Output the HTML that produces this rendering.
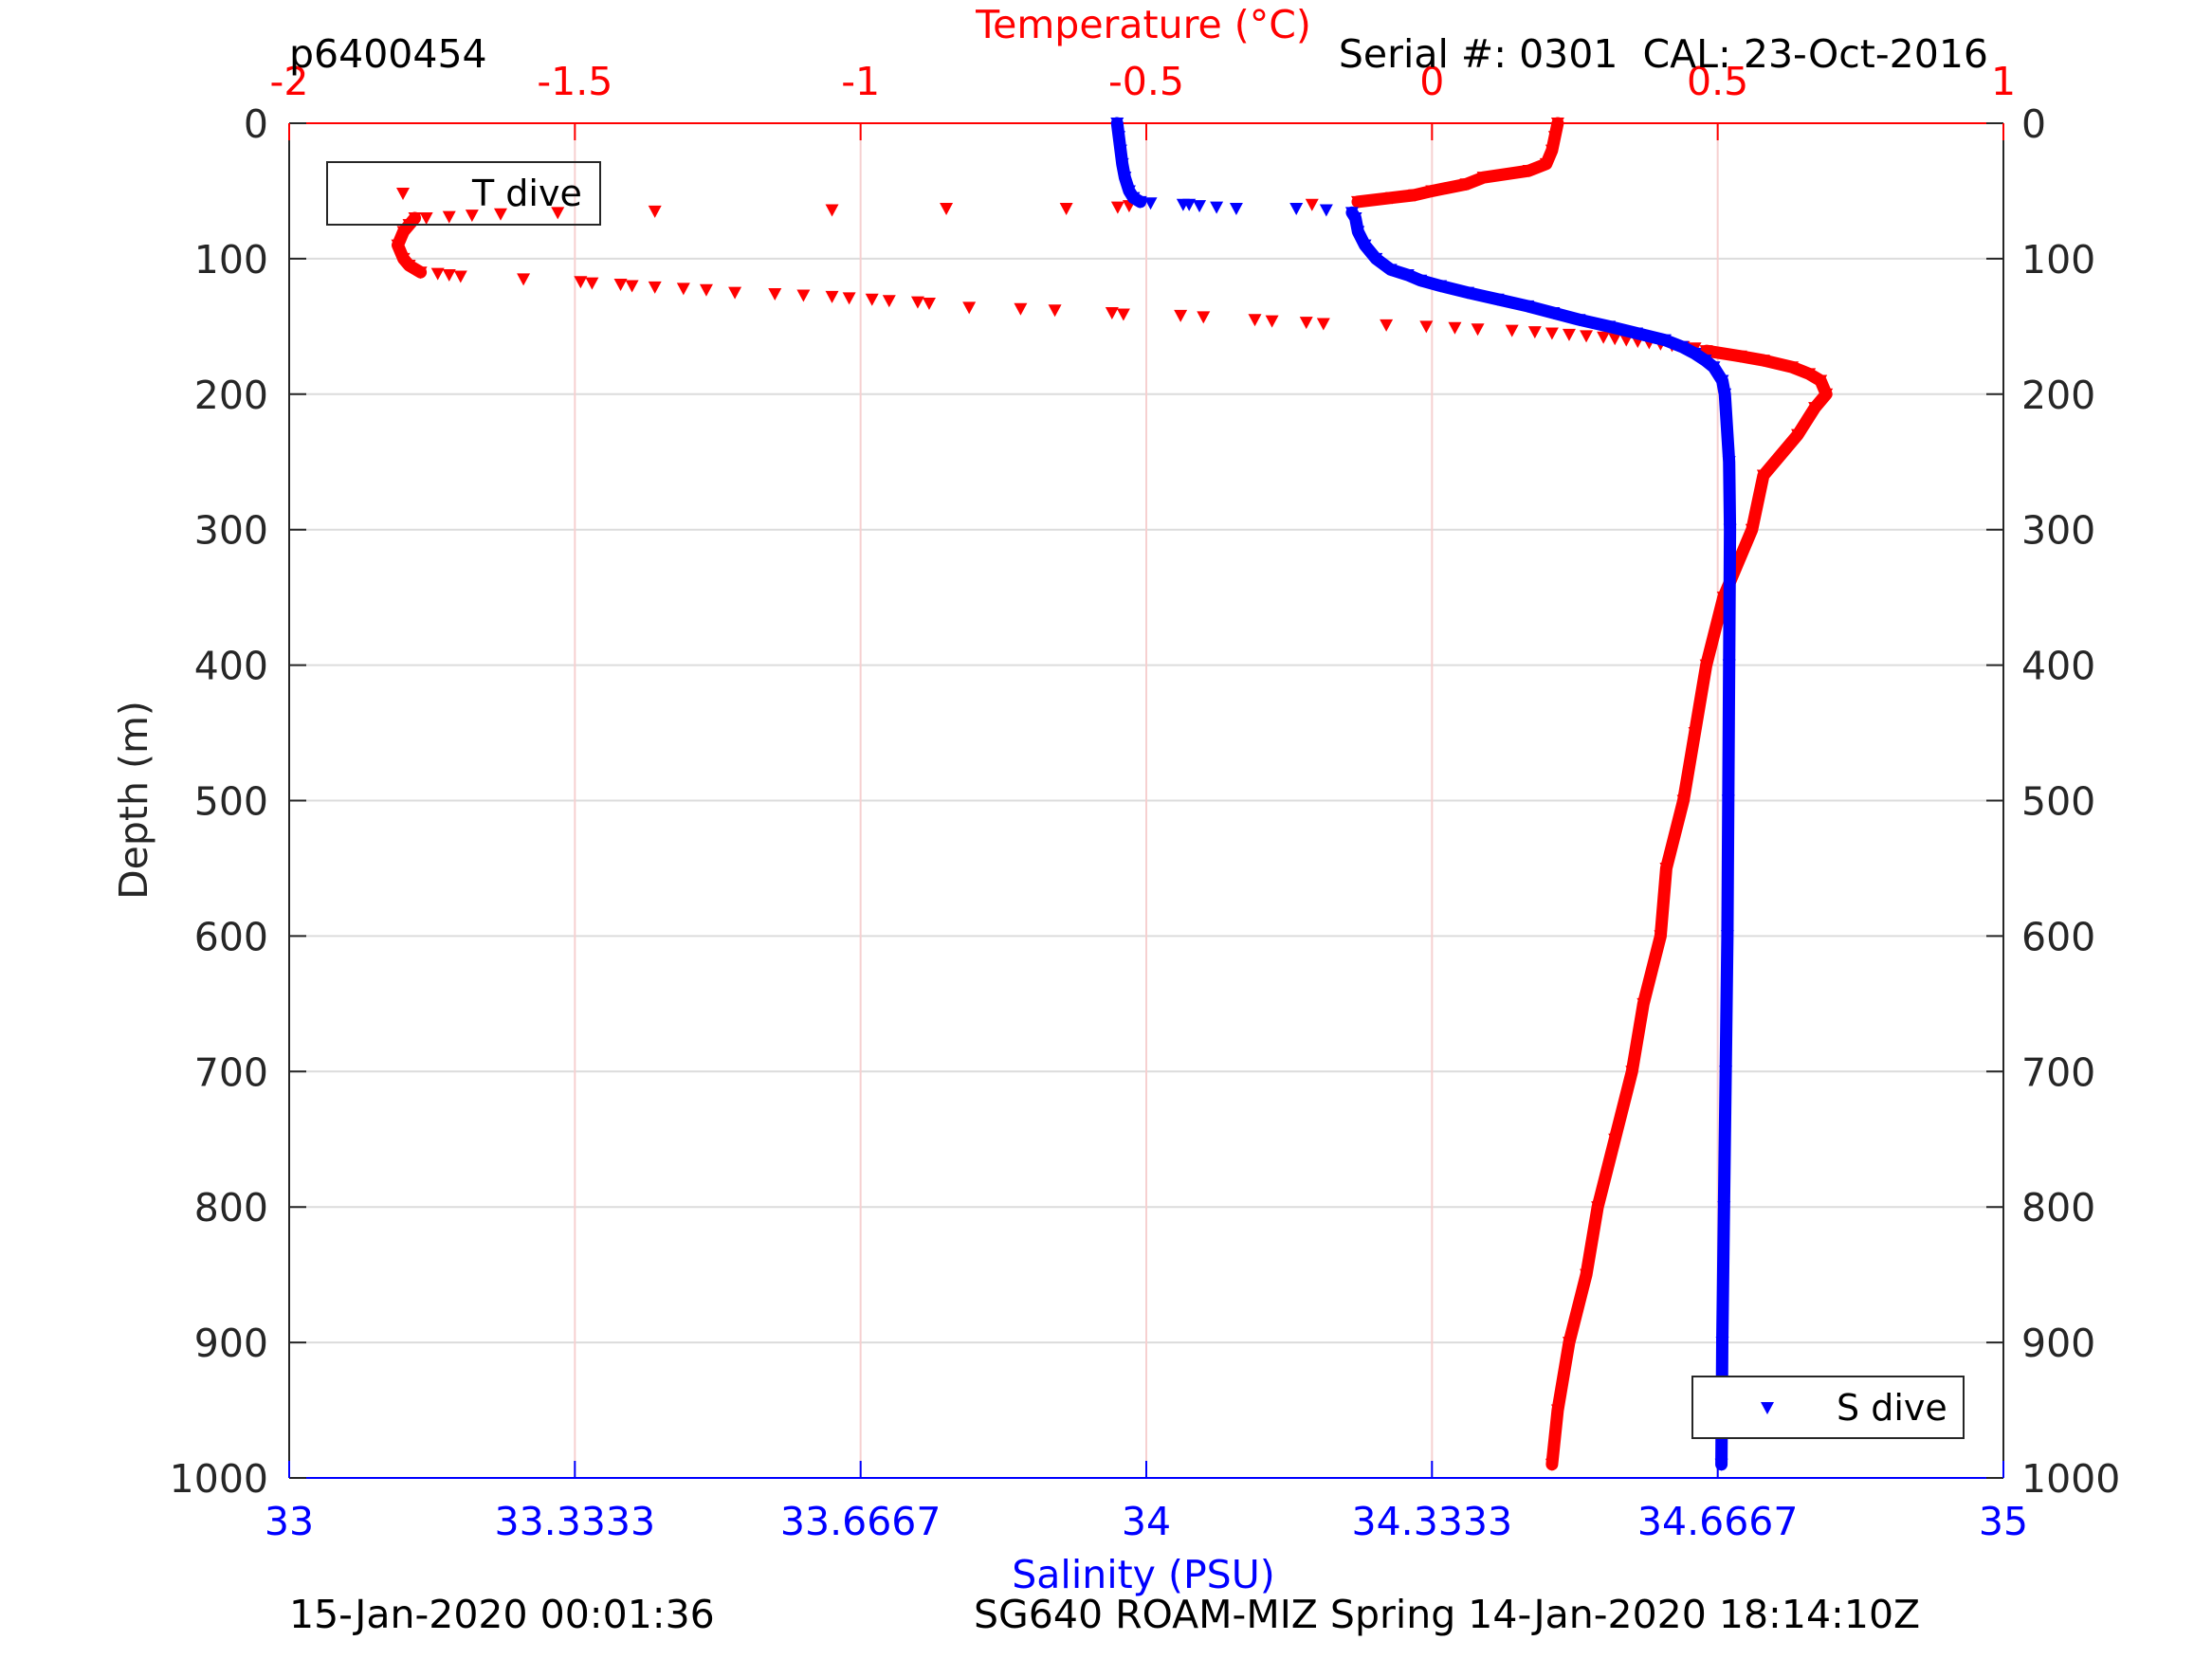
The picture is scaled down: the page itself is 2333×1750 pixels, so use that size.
<!DOCTYPE html>
<html><head><meta charset="utf-8"><style>
html,body{margin:0;padding:0;background:#fff}
svg{display:block;font-family:"DejaVu Sans","Liberation Sans",sans-serif}
</style></head><body>
<svg id="chart" width="2333" height="1750" viewBox="0 0 2333 1750" xmlns="http://www.w3.org/2000/svg"></svg>
<script>
// ---- data (depth m, value) ----
const depthTicks=[0,100,200,300,400,500,600,700,800,900,1000];
const tempTicks=[-2,-1.5,-1,-0.5,0,0.5,1];
const tempTickLabels=["-2","-1.5","-1","-0.5","0","0.5","1"];
const salTicks=[33,33.3333,33.6667,34,34.3333,34.6667,35];
const salTickLabels=["33","33.3333","33.6667","34","34.3333","34.6667","35"];
// temperature: dense upper segment
const tDepthA=[0,10,20,30,35,40,45,50,53,55,58];
const tValA=[0.22,0.215,0.21,0.20,0.17,0.09,0.06,0.0,-0.03,-0.07,-0.13];
// sparse leftward points
const tDepthB=[60,61,62,63,63,64,65,66,67,68,69,70];
const tValB=[-0.21,-0.53,-0.55,-0.64,-0.85,-1.05,-1.36,-1.53,-1.63,-1.68,-1.72,-1.76];
// dense cold layer
const tDepthC=[70,75,80,90,100,105,110];
const tValC=[-1.78,-1.79,-1.80,-1.81,-1.80,-1.79,-1.77];
// sparse rightward points
const tDepthD=[111,112,113,115,117,118,119,120,121,122,123,125,126,127,128,129,130,131,132,133,136,137,138,140,141,142,143,145,146,147,148,149,150,151,152,153,154,155,156,157,158,159,160,161,162,163,164,165,166];
const tValD=[-1.74,-1.72,-1.70,-1.59,-1.49,-1.47,-1.42,-1.40,-1.36,-1.31,-1.27,-1.22,-1.15,-1.10,-1.05,-1.02,-0.98,-0.95,-0.90,-0.88,-0.81,-0.72,-0.66,-0.56,-0.54,-0.44,-0.40,-0.31,-0.28,-0.22,-0.19,-0.08,-0.01,0.04,0.08,0.14,0.18,0.21,0.24,0.27,0.30,0.32,0.34,0.36,0.38,0.40,0.42,0.44,0.46];
// dense lower segment
const tDepthE=[168,172,175,180,185,190,200,210,230,260,300,350,400,450,500,550,600,650,700,750,800,850,900,950,990];
const tValE=[0.48,0.54,0.58,0.63,0.66,0.68,0.69,0.67,0.64,0.58,0.56,0.51,0.48,0.46,0.44,0.41,0.40,0.37,0.35,0.32,0.29,0.27,0.24,0.22,0.21];
// salinity
const sDepthA=[0,10,20,30,40,50,55,58];
const sValA=[33.966,33.968,33.970,33.972,33.975,33.980,33.985,33.993];
const sDepthB=[59,60,60,61,62,63,63,64];
const sValB=[34.005,34.043,34.050,34.062,34.082,34.105,34.175,34.210];
const sDepthC=[66,70,80,90,100,108,112,116,120,125,130,135,140,145,150,155,160,165,170,175,180,190,200,250,300,400,500,600,700,800,900,990];
const sValC=[34.240,34.244,34.247,34.255,34.268,34.285,34.305,34.320,34.343,34.375,34.410,34.445,34.475,34.505,34.540,34.572,34.605,34.625,34.640,34.652,34.662,34.672,34.675,34.680,34.681,34.680,34.679,34.678,34.676,34.674,34.672,34.671];

// ---- axes ----
const L=305,R=2113,T=130,B=1559;
const xT=v=>L+(v+2)/3*(R-L);
const xS=v=>L+(v-33)/2*(R-L);
const yD=d=>T+d/1000*(B-T);
const NS="http://www.w3.org/2000/svg";
const svg=document.getElementById('chart');
const FS=41;
function mk(tag,attrs,parent){const e=document.createElementNS(NS,tag);for(const k in attrs)e.setAttribute(k,attrs[k]);(parent||svg).appendChild(e);return e;}
function txt(s,x,y,anchor,fill,size,name){const e=mk('text',{x:x,y:y,'text-anchor':anchor,fill:fill,'font-size':size,style:'white-space:pre'});e.textContent=s;


return e;}

// grid
depthTicks.forEach(d=>{if(d>0&&d<1000){const g=mk('line',{x1:L,x2:R,y1:yD(d),y2:yD(d),stroke:'#dcdcdc','stroke-width':2});

}});
tempTicks.forEach(v=>{if(v>-2&&v<1){const g=mk('line',{x1:xT(v),x2:xT(v),y1:T,y2:B,stroke:'#f6d0d0','stroke-width':2});

}});

// axes lines
let a;
a=mk('line',{x1:L,x2:L,y1:T,y2:B,stroke:'#262626','stroke-width':2});


a=mk('line',{x1:R,x2:R,y1:T,y2:B,stroke:'#262626','stroke-width':2});


a=mk('line',{x1:L,x2:R,y1:T,y2:T,stroke:'#ff0000','stroke-width':2});


a=mk('line',{x1:L,x2:R,y1:B,y2:B,stroke:'#0000ff','stroke-width':2});



// depth ticks
depthTicks.forEach(d=>{
 const y=yD(d);
 let t=mk('line',{x1:L,x2:L+18,y1:y,y2:y,stroke:'#262626','stroke-width':2});
 
 
 t=mk('line',{x1:R-18,x2:R,y1:y,y2:y,stroke:'#262626','stroke-width':2});
 
 
 txt(String(d),283,y+15,'end','#262626',FS,'depth-tick-label');
 txt(String(d),2132,y+15,'start','#262626',FS,'depth-tick-label-right');
});
tempTicks.forEach((v,i)=>{
 const x=xT(v);
 const t=mk('line',{x1:x,x2:x,y1:T,y2:T+18,stroke:'#ff0000','stroke-width':2});
 
 
 txt(tempTickLabels[i],x,100,'middle','#ff0000',FS,'temp-tick-label');
});
salTicks.forEach((v,i)=>{
 const x=xS(v);
 const t=mk('line',{x1:x,x2:x,y1:B-18,y2:B,stroke:'#0000ff','stroke-width':2});
 
 
 txt(salTickLabels[i],x,1619,'middle','#0000ff',FS,'salinity-tick-label');
});

// series drawing
function tri(x,y,col,name){const s=7;const p=mk('polygon',{points:`${x-s},${y-6} ${x+s},${y-6} ${x},${y+7}`,fill:col});

}
function dense(ds,vs,fx,col,name){
 const pts=ds.map((d,i)=>fx(vs[i])+','+yD(d)).join(' ');
 const pl=mk('polyline',{points:pts,fill:'none',stroke:col,'stroke-width':13,'stroke-linejoin':'round','stroke-linecap':'round'});
 
 
 ds.forEach((d,i)=>tri(fx(vs[i]),yD(d),col,name+'-point'));
}
function sparse(ds,vs,fx,col,name){ds.forEach((d,i)=>tri(fx(vs[i]),yD(d),col,name));}
dense(tDepthA,tValA,xT,'#ff0000','temp-upper');
sparse(tDepthB,tValB,xT,'#ff0000','temp-point');
dense(tDepthC,tValC,xT,'#ff0000','temp-cold-layer');
sparse(tDepthD,tValD,xT,'#ff0000','temp-point');
dense(tDepthE,tValE,xT,'#ff0000','temp-lower');
dense(sDepthA,sValA,xS,'#0000ff','sal-upper');
sparse(sDepthB,sValB,xS,'#0000ff','sal-point');
dense(sDepthC,sValC,xS,'#0000ff','sal-lower');

// legends
let lg=mk('rect',{x:345,y:171,width:288,height:66,fill:'none',stroke:'#262626','stroke-width':2});


tri(425,204,'#ff0000','legend-t-marker');
txt('T dive',498,217,'start','#000',38,'legend-t-label');
lg=mk('rect',{x:1785,y:1452,width:286,height:65,fill:'#fff',stroke:'#262626','stroke-width':2});


tri(1864,1485,'#0000ff','legend-s-marker');
txt('S dive',1937,1498,'start','#000',38,'legend-s-label');

// titles
txt('p6400454',305,71,'start','#000',FS,'profile-id');
txt('Temperature (°C)',1206,40,'middle','#ff0000',FS,'temperature-axis-title');
txt('Serial #: 0301  CAL: 23-Oct-2016',2097,71,'end','#000',FS,'serial-cal-label');
txt('Salinity (PSU)',1206,1675,'middle','#0000ff',FS,'salinity-axis-title');
txt('15-Jan-2020 00:01:36',305,1717,'start','#000',FS,'plot-timestamp');
txt('SG640 ROAM-MIZ Spring 14-Jan-2020 18:14:10Z',1027,1717,'start','#000',FS,'mission-label');
const yl=txt('Depth (m)',0,0,'middle','#262626',FS,'depth-axis-title');
yl.setAttribute('transform','translate(155,844) rotate(-90)');
</script>
</body></html>
